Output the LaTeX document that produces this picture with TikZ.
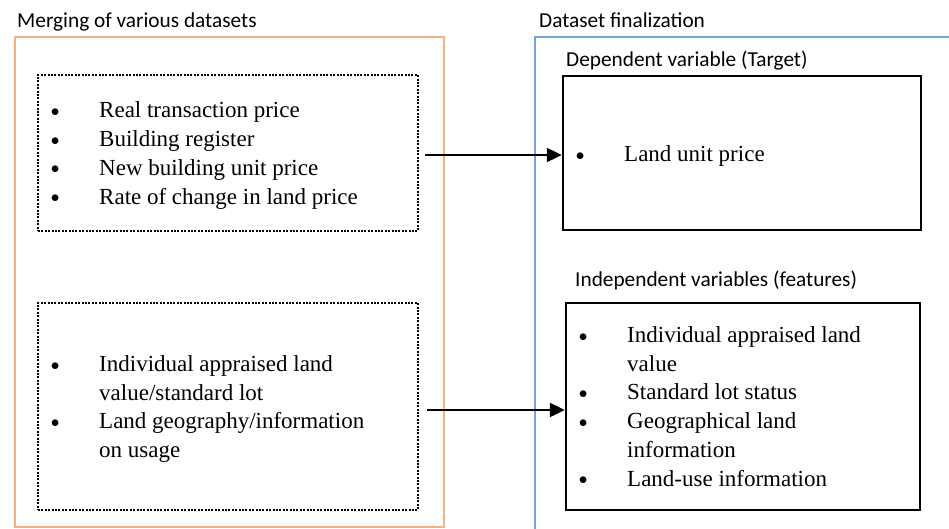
\documentclass[tikz,border=0pt]{standalone}
\usepackage{fontspec}
\usetikzlibrary{arrows.meta}
\newfontfamily\headfont{Carlito}
\newfontfamily\bodyserif{Liberation Serif}
\newcommand\listfont{\bodyserif\fontsize{23}{28.7}\selectfont}
% bullet centred on the start of its column
\newcommand\bul{\makebox[0pt]{\raisebox{1.4pt}{\fontsize{18}{18}\selectfont$\bullet$}}}
\definecolor{mergeorange}{RGB}{244,177,131}
\definecolor{finalblue}{RGB}{116,163,218}
\tikzset{
  frame/.style={draw, line width=2pt, inner sep=0pt, minimum width=#1},
  dotbox/.style={draw, line width=2pt, dash pattern=on 2pt off 1.4pt, inner sep=0pt},
  solidbox/.style={draw, line width=2.4pt, inner sep=0pt},
  heading/.style={anchor=base west, inner sep=0pt, font=\headfont\fontsize{21.3}{25}\selectfont},
  itemlist/.style={anchor=base west, inner sep=0pt, font=\listfont},
  flow/.style={line width=2.2pt, -{Triangle[length=15pt,width=14pt]}}
}
\newcommand\bulletlist[1]{\begin{tabular}[t]{@{}p{44pt}@{}l@{}}#1\end{tabular}}
\begin{document}
\begin{tikzpicture}[x=1pt,y=-1pt]
\useasboundingbox (0,0) rectangle (949,529);
\clip (0,0) rectangle (949,529);

% group frames
\node[frame=429pt, draw=mergeorange, minimum height=490pt] (merge) at (229.5,282) {};
\node[frame=425pt, draw=finalblue, minimum height=503pt] (final) at (747.5,288.5) {};

% group and box titles
\node[heading] (mergetitle) at (17,28) {Merging of various datasets};
\node[heading] (finaltitle) at (539,28) {Dataset finalization};
\node[heading] (targettitle) at (566,67) {Dependent variable (Target)};
\node[heading] (featuretitle) at (575,286) {Independent variables (features)};

% source data boxes
\node[dotbox, minimum width=380pt, minimum height=156pt] (src1) at (228,153) {};
\node[dotbox, minimum width=380pt, minimum height=207pt] (src2) at (228,406.5) {};

% final data boxes
\node[solidbox, minimum width=358pt, minimum height=154pt] (target) at (742,153) {};
\node[solidbox, minimum width=354pt, minimum height=207pt] (features) at (743,406.5) {};

% box contents
\node[itemlist] (src1list) at (55,118) {\bulletlist{%
  \bul & Real transaction price\\
  \bul & Building register\\
  \bul & New building unit price\\
  \bul & Rate of change in land price}};
\node[itemlist] (src2list) at (55,371.5) {\bulletlist{%
  \bul & Individual appraised land\\
       & value/standard lot\\
  \bul & Land geography/information\\
       & on usage}};
\node[itemlist] (targetlist) at (580,161.5) {\bulletlist{%
  \bul & Land unit price}};
\node[itemlist] (featurelist) at (583,342.5) {\bulletlist{%
  \bul & Individual appraised land\\
       & value\\
  \bul & Standard lot status\\
  \bul & Geographical land\\
       & information\\
  \bul & Land-use information}};

% connectors
\draw[flow, shorten <=6pt] ([yshift=-2pt]src1.east) -- ([yshift=-2pt]target.west);
\draw[flow, shorten <=8pt] ([yshift=-3.5pt]src2.east) -- ([yshift=-3.5pt]features.west);
\end{tikzpicture}
\end{document}
